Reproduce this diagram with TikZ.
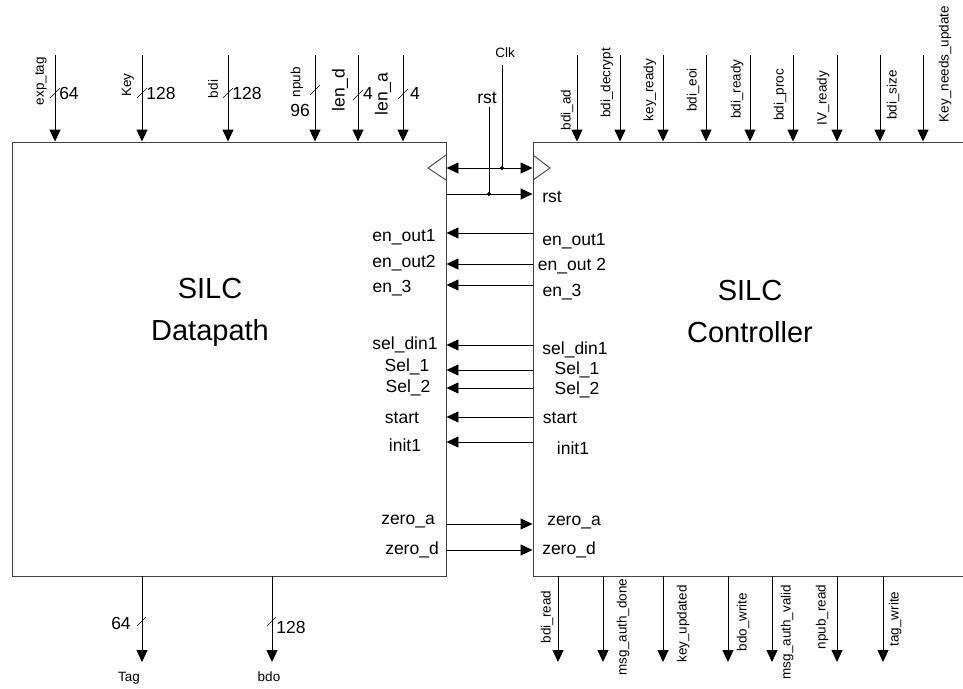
\documentclass[tikz,border=0pt]{standalone}
\usepackage{fontspec}
\setmainfont{Liberation Sans}
\usetikzlibrary{arrows.meta,positioning}
\tikzset{
  blk/.style={rectangle, draw=black!75, line width=0.9pt, inner sep=0pt},
  sig/.style={-{Triangle[length=12pt,width=11pt]}, line width=0.9pt},
  dsig/.style={{Triangle[length=12pt,width=11pt]}-{Triangle[length=12pt,width=11pt]}, line width=0.9pt},
  wire/.style={line width=0.9pt},
  bus/.style={line width=0.6pt},
  lbl/.style={font=\fontsize{17.5}{20}\selectfont, inner sep=0pt},
  small/.style={font=\fontsize{13.5}{16}\selectfont, inner sep=0pt},
  vlbl/.style={small, rotate=90},
  vbig/.style={lbl, rotate=90},
  big/.style={font=\fontsize{29}{42}\selectfont, align=center},
}
\begin{document}
\begin{tikzpicture}[x=1pt,y=-1pt]
  \useasboundingbox (0,0) rectangle (963,688);
  % the two blocks
  \node[blk, minimum width=434pt, minimum height=434pt] (dp)  at (229,359) {};
  \node[blk, minimum width=470pt, minimum height=434pt] (ctl) at (768,359) {};
  \node[big] (dptxt)  at (210,312) {SILC\\Datapath};
  \node[big] (ctltxt) at (750,312) {SILC\\Controller};
  % clock symbols
  \draw[wire, black!75] (446,155) -- (428,168) -- (446,180);
  \draw[wire, black!75] (533,155) -- (550,168) -- (533,180);
  % datapath inputs
  \draw[sig] (55,55)  -- (55,0 |- dp.north);
  \draw[sig] (142,55) -- (142,0 |- dp.north);
  \draw[sig] (228,55) -- (228,0 |- dp.north);
  \draw[sig] (315,55) -- (315,0 |- dp.north);
  \draw[sig] (358,55) -- (358,0 |- dp.north);
  \draw[sig] (403,55) -- (403,0 |- dp.north);
  \draw[bus] (50,98)  -- (60,88);
  \draw[bus] (137,98) -- (147,88);
  \draw[bus] (223,98) -- (233,88);
  \draw[bus] (310,95) -- (320,85);
  \draw[bus] (353,100) -- (363,90);
  \draw[bus] (398,99) -- (408,89);
  \node[vlbl] (exptag) at (41,81)  {exp\_tag};
  \node[vlbl] (key)    at (128,85) {Key};
  \node[vlbl] (bdi)    at (213,89) {bdi};
  \node[vlbl] (npub)   at (297,82) {npub};
  \node[vbig] (lend)   at (340,90) {len\_d};
  \node[vbig] (lena)   at (383,94) {len\_a};
  \node[lbl] (w64)   at (69,93)   {64};
  \node[lbl] (wkey)  at (161,93)  {128};
  \node[lbl] (wbdi)  at (247,93)  {128};
  \node[lbl] (wnpub) at (300,110) {96};
  \node[lbl] (wlend) at (368,93)  {4};
  \node[lbl] (wlena) at (415,93)  {4};
  % controller inputs
  \draw[sig] (577,55) -- (577,0 |- ctl.north);
  \draw[sig] (620,55) -- (620,0 |- ctl.north);
  \draw[sig] (663,55) -- (663,0 |- ctl.north);
  \draw[sig] (706,55) -- (706,0 |- ctl.north);
  \draw[sig] (750,55) -- (750,0 |- ctl.north);
  \draw[sig] (793,55) -- (793,0 |- ctl.north);
  \draw[sig] (837,55) -- (837,0 |- ctl.north);
  \draw[sig] (880,55) -- (880,0 |- ctl.north);
  \draw[sig] (923,55) -- (923,0 |- ctl.north);
  \node[vlbl] (bdiad)   at (567,110) {bdi\_ad};
  \node[vlbl] (bdidec)  at (607,83)  {bdi\_decrypt};
  \node[vlbl] (keyrdy)  at (650,90)  {key\_ready};
  \node[vlbl] (bdieoi)  at (693,90)  {bdi\_eoi};
  \node[vlbl] (bdirdy)  at (737,89)  {bdi\_ready};
  \node[vlbl] (bdiproc) at (780,95)  {bdi\_proc};
  \node[vlbl] (ivrdy)   at (823,98)  {IV\_ready};
  \node[vlbl] (bdisize) at (893,95)  {bdi\_size};
  \node[vlbl] (keyupd)  at (945,64)  {Key\_needs\_update};
  % clock and reset
  \node[small] (clk) at (505,53) {Clk};
  \node[lbl] (rsttop) at (487,98) {rst};
  \coordinate (clkj) at (502,168);
  \coordinate (rstj) at (489,194);
  \draw[dsig] (dp.east |- clkj) -- (ctl.west |- clkj);
  \draw[sig] (dp.east |- rstj) -- (ctl.west |- rstj);
  \draw[wire] (502,65) -- (clkj);
  \draw[wire] (489,107) -- (rstj);
  \filldraw (clkj) circle (1.8pt);
  \filldraw (rstj) circle (1.8pt);
  \node[lbl] (rstc) at (552,197) {rst};
  % control signals
  \draw[sig] (ctl.west |- 0,233) -- (dp.east |- 0,233);
  \draw[sig] (ctl.west |- 0,264) -- (dp.east |- 0,264);
  \draw[sig] (ctl.west |- 0,285) -- (dp.east |- 0,285);
  \draw[sig] (ctl.west |- 0,345) -- (dp.east |- 0,345);
  \draw[sig] (ctl.west |- 0,370) -- (dp.east |- 0,370);
  \draw[sig] (ctl.west |- 0,388) -- (dp.east |- 0,388);
  \draw[sig] (ctl.west |- 0,417) -- (dp.east |- 0,417);
  \draw[sig] (ctl.west |- 0,442) -- (dp.east |- 0,442);
  \draw[sig] (dp.east |- 0,524) -- (ctl.west |- 0,524);
  \draw[sig] (dp.east |- 0,550) -- (ctl.west |- 0,550);
  \node[lbl] (enouta) at (404,237) {en\_out1};
  \node[lbl] (enoutb) at (404,263) {en\_out2};
  \node[lbl] (enthr)  at (392,288) {en\_3};
  \node[lbl] (seldin) at (405,345) {sel\_din1};
  \node[lbl] (sela)   at (407,367) {Sel\_1};
  \node[lbl] (selb)   at (408,388) {Sel\_2};
  \node[lbl] (start)  at (402,418) {start};
  \node[lbl] (init)   at (405,445) {init1};
  \node[lbl] (zeroa)  at (408,522) {zero\_a};
  \node[lbl] (zerod)  at (412,550) {zero\_d};
  \node[lbl] (cenouta) at (574,241) {en\_out1};
  \node[lbl] (cenoutb) at (572,266) {en\_out 2};
  \node[lbl] (centhr)  at (562,292) {en\_3};
  \node[lbl] (cseldin) at (575,350) {sel\_din1};
  \node[lbl] (csela)   at (577,370) {Sel\_1};
  \node[lbl] (cselb)   at (577,390) {Sel\_2};
  \node[lbl] (cstart)  at (560,418) {start};
  \node[lbl] (cinit)   at (573,448) {init1};
  \node[lbl] (czeroa)  at (574,523) {zero\_a};
  \node[lbl] (czerod)  at (569,550) {zero\_d};
  % datapath outputs
  \draw[sig] (142,0 |- dp.south) -- (142,662);
  \draw[sig] (272,0 |- dp.south) -- (272,662);
  \draw[bus] (137,626) -- (146,617);
  \draw[bus] (267,626) -- (276,617);
  \node[lbl] (wtag) at (121,623) {64};
  \node[lbl] (wbdo) at (291,627) {128};
  \node[small] (tag) at (129,678) {Tag};
  \node[small] (bdo) at (269,677) {bdo};
  % controller outputs
  \draw[sig] (558,0 |- ctl.south) -- (558,662);
  \draw[sig] (603,0 |- ctl.south) -- (603,662);
  \draw[sig] (663,0 |- ctl.south) -- (663,662);
  \draw[sig] (728,0 |- ctl.south) -- (728,662);
  \draw[sig] (772,0 |- ctl.south) -- (772,662);
  \draw[sig] (837,0 |- ctl.south) -- (837,662);
  \draw[sig] (883,0 |- ctl.south) -- (883,662);
  \node[vlbl] (bdird)   at (547,617) {bdi\_read};
  \node[vlbl] (authdn)  at (623,627) {msg\_auth\_done};
  \node[vlbl] (keyupdd) at (683,624) {key\_updated};
  \node[vlbl] (bdowr)   at (743,622) {bdo\_write};
  \node[vlbl] (authvl)  at (787,632) {msg\_auth\_valid};
  \node[vlbl] (npubrd)  at (822,617) {npub\_read};
  \node[vlbl] (tagwr)   at (895,619) {tag\_write};
\end{tikzpicture}
\end{document}
